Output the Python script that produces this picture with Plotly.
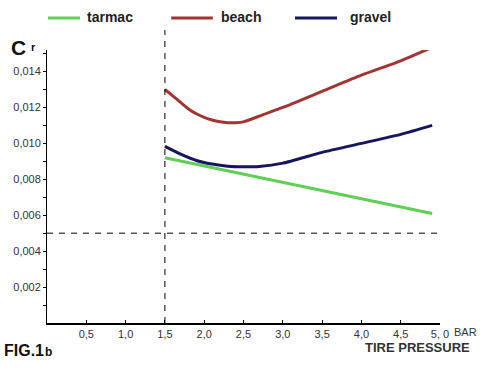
import plotly.graph_objects as go

# Data
tarmac_x = [1.5, 4.9]
tarmac_y = [0.0092, 0.0061]

beach_x = [1.5, 1.6, 1.7, 1.8, 1.9, 2.0, 2.1, 2.2, 2.3, 2.4, 2.5, 2.75, 3.0, 3.5, 4.0, 4.5, 4.9]
beach_y = [0.0130, 0.01265, 0.01228, 0.01192, 0.01165, 0.01145, 0.0113, 0.0112, 0.01115, 0.01115, 0.0112,
           0.0116, 0.0120, 0.0129, 0.0138, 0.0146, 0.01535]

gravel_x = [1.5, 1.7, 1.9, 2.1, 2.3, 2.5, 2.7, 3.0, 3.5, 4.0, 4.5, 4.9]
gravel_y = [0.00983, 0.0094, 0.00905, 0.00885, 0.00873, 0.0087, 0.00872, 0.0089, 0.0095, 0.0100, 0.0105, 0.0110]

x_ticks = [0.5, 1.0, 1.5, 2.0, 2.5, 3.0, 3.5, 4.0, 4.5, 5.0]
x_labels = ["0,5", "1,0", "1,5", "2,0", "2,5", "3,0", "3,5", "4,0", "4,5", "5, 0"]
y_ticks = [0.002, 0.004, 0.006, 0.008, 0.010, 0.012, 0.014]
y_labels = ["0,002", "0,004", "0,006", "0,008", "0,010", "0,012", "0,014"]

ref_pressure = 1.5
ref_cr = 0.005

GREEN = "#5fcf55"
RED = "#a23432"
NAVY = "#16165e"
FONT = "Liberation Sans"

fig = go.Figure()
fig.add_trace(go.Scatter(x=tarmac_x, y=tarmac_y, mode="lines", name="tarmac",
                         line=dict(color=GREEN, width=3)))
fig.add_trace(go.Scatter(x=gravel_x, y=gravel_y, mode="lines", name="gravel",
                         line=dict(color=NAVY, width=3, shape="spline", smoothing=0.6)))
fig.add_trace(go.Scatter(x=beach_x, y=beach_y, mode="lines", name="beach",
                         line=dict(color=RED, width=3, shape="spline", smoothing=0.6)))

# dashed reference lines
fig.add_shape(type="line", xref="x", yref="paper", x0=ref_pressure, x1=ref_pressure, y0=0, y1=1.073,
              line=dict(color="black", width=1, dash="6px,6px"))
fig.add_shape(type="line", xref="paper", yref="y", x0=0, x1=0.995, y0=ref_cr, y1=ref_cr,
              line=dict(color="black", width=1, dash="6px,6px"))

# legend (custom)
legend_items = [("tarmac", GREEN, 0.0025, 0.084, 0.097),
                ("beach", RED, 0.316, 0.422, 0.438),
                ("gravel", NAVY, 0.631, 0.738, 0.766)]
for name, col, x0, x1, xt in legend_items:
    fig.add_shape(type="line", xref="paper", yref="paper", x0=x0, x1=x1, y0=1.117, y1=1.117,
                  line=dict(color=col, width=3))
    fig.add_annotation(xref="paper", yref="paper", x=xt, y=1.12, text="<b>" + name + "</b>",
                       showarrow=False, xanchor="left", yanchor="middle",
                       font=dict(family=FONT, size=14, color="#222"))

# axis titles / labels
fig.add_annotation(xref="paper", yref="paper", x=-0.097, y=1.01, text="<b>C</b>",
                   showarrow=False, xanchor="left", yanchor="middle",
                   font=dict(family=FONT, size=21, color="#111"))
fig.add_annotation(xref="paper", yref="paper", x=-0.045, y=1.012, text="<b>r</b>",
                   showarrow=False, xanchor="left", yanchor="middle",
                   font=dict(family=FONT, size=11, color="#111"))
fig.add_annotation(xref="paper", yref="paper", x=-0.115, y=-0.1, text="<b>FIG.1</b>",
                   showarrow=False, xanchor="left", yanchor="middle",
                   font=dict(family=FONT, size=16, color="#111"))
fig.add_annotation(xref="paper", yref="paper", x=-0.01, y=-0.105, text="<b>b</b>",
                   showarrow=False, xanchor="left", yanchor="middle",
                   font=dict(family=FONT, size=12, color="#111"))
fig.add_annotation(xref="paper", yref="paper", x=1.081, y=-0.09, text="<b>TIRE PRESSURE</b>",
                   showarrow=False, xanchor="right", yanchor="middle",
                   font=dict(family=FONT, size=13, color="#333"))
fig.add_annotation(xref="paper", yref="paper", x=1.066, y=-0.032, text="BAR",
                   showarrow=False, xanchor="center", yanchor="middle",
                   font=dict(family=FONT, size=11, color="#333"))

fig.update_xaxes(range=[0, 5.0], tickvals=x_ticks, ticktext=x_labels,
                 showgrid=False, zeroline=False, showline=True, linecolor="black", linewidth=2,
                 ticks="inside", ticklen=3, tickcolor="black",
                 tickfont=dict(family=FONT, size=11, color="#333"))
fig.update_yaxes(range=[0, 0.0152], tickvals=y_ticks, ticktext=y_labels,
                 showgrid=False, zeroline=False, showline=True, linecolor="black", linewidth=1,
                 ticks="outside", ticklen=3, tickcolor="black",
                 minor=dict(tickvals=[0.001, 0.003, 0.005, 0.007, 0.009, 0.011, 0.013, 0.015],
                            ticks="outside", ticklen=3, tickcolor="black"),
                 tickfont=dict(family=FONT, size=11, color="#333"))

fig.update_layout(width=486, height=378, margin=dict(l=47, r=46, t=50, b=55),
                  paper_bgcolor="white", plot_bgcolor="white", showlegend=False)

fig.write_html("out.html", config={"displayModeBar": False},
               post_script="document.body.style.margin='0';")
